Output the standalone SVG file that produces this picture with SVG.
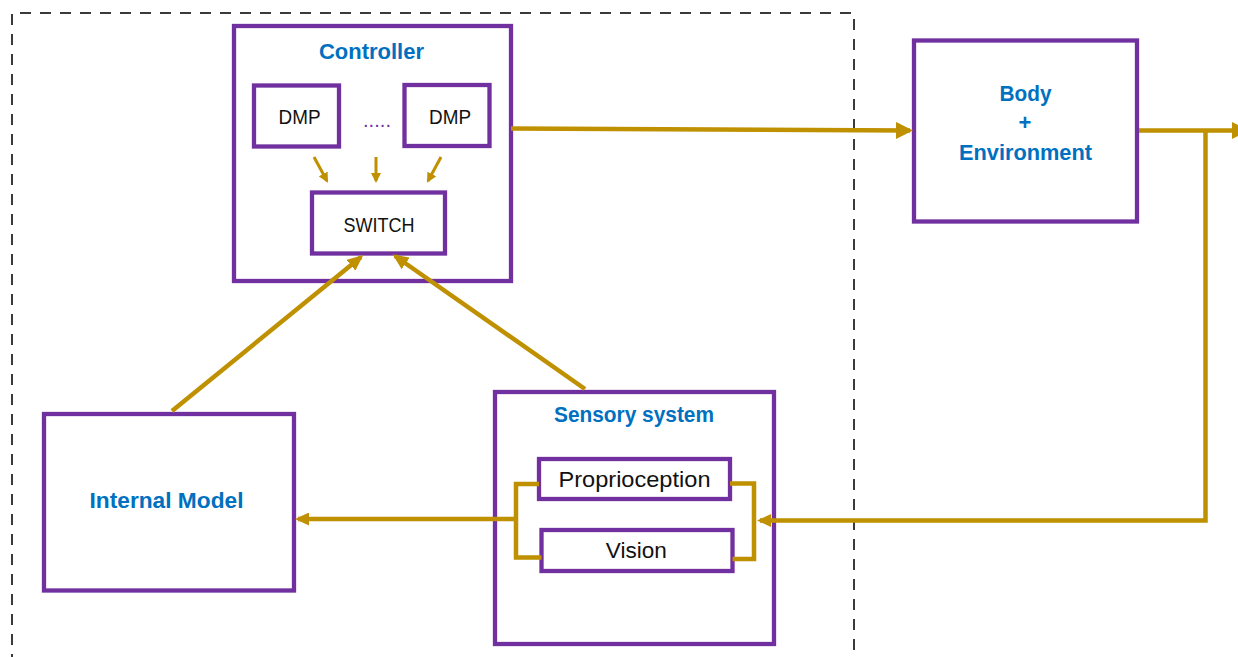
<svg xmlns="http://www.w3.org/2000/svg" width="1238" height="657" viewBox="0 0 1238 657">
  <style>
    .box { fill: #ffffff; stroke: #7030A0; stroke-width: 4.3; }
    .title { font-family: "Liberation Sans", Arial, sans-serif; font-weight: bold; font-size: 22px; fill: #0070C0; text-anchor: middle; }
    .label { font-family: "Liberation Sans", Arial, sans-serif; font-size: 20px; fill: #111111; text-anchor: middle; }
    .caps { font-size: 21px; }
    .lower { font-size: 22px; }
    .wire { fill: none; stroke: #BF9000; stroke-width: 4.5; stroke-linejoin: miter; }
    .thin { fill: none; stroke: #BF9000; stroke-width: 3; }
    .frame { fill: none; stroke: #3a3a3a; stroke-width: 2; stroke-dasharray: 11 9; }
  </style>
  <defs>
    <marker id="ahBig" markerUnits="userSpaceOnUse" markerWidth="17" markerHeight="17" refX="14" refY="8.5" orient="auto">
      <path d="M0,0 L17,8.5 L0,17 Z" fill="#BF9000"/>
    </marker>
    <marker id="ahMid" markerUnits="userSpaceOnUse" markerWidth="16" markerHeight="14" refX="13" refY="7" orient="auto">
      <path d="M0,0 L16,7 L0,14 Z" fill="#BF9000"/>
    </marker>
    <marker id="ahSmall" markerUnits="userSpaceOnUse" markerWidth="14" markerHeight="13" refX="11" refY="6.5" orient="auto">
      <path d="M0,0 L14,6.5 L0,13 Z" fill="#BF9000"/>
    </marker>
    <marker id="ahTiny" markerUnits="userSpaceOnUse" markerWidth="10" markerHeight="10" refX="8" refY="5" orient="auto">
      <path d="M0,0 L10,5 L0,10 Z" fill="#BF9000"/>
    </marker>
  </defs>

  <rect width="1238" height="657" fill="#ffffff"/>

  <g id="frame">
    <path class="frame" d="M12,665 V13 H854 V665"/>
  </g>

  <g id="controller">
    <rect class="box" x="234" y="26" width="277" height="255"/>
    <text class="title" x="371.5" y="59" textLength="105" lengthAdjust="spacingAndGlyphs">Controller</text>
  </g>
  <g id="dmp1">
    <rect class="box" x="254" y="85.5" width="85" height="61"/>
    <text class="label caps" x="299.5" y="124" textLength="42" lengthAdjust="spacingAndGlyphs">DMP</text>
  </g>
  <g id="dots">
    <text x="377" y="127" font-family="Liberation Sans, Arial, sans-serif" font-size="20" fill="#7030A0" text-anchor="middle" textLength="28" lengthAdjust="spacing">.....</text>
  </g>
  <g id="dmp2">
    <rect class="box" x="404.5" y="85" width="85" height="61"/>
    <text class="label caps" x="450" y="124" textLength="42" lengthAdjust="spacingAndGlyphs">DMP</text>
  </g>
  <g id="switch">
    <rect class="box" x="312" y="192.5" width="133" height="61"/>
    <text class="label" x="379" y="232" font-size="20.5" textLength="71" lengthAdjust="spacingAndGlyphs">SWITCH</text>
  </g>
  <g id="body-env">
    <rect class="box" x="914" y="40.5" width="223" height="181"/>
    <text class="title" x="1025.5" y="101" textLength="52" lengthAdjust="spacingAndGlyphs">Body</text>
    <text class="title" x="1025" y="130">+</text>
    <text class="title" x="1025.5" y="160" textLength="133" lengthAdjust="spacingAndGlyphs">Environment</text>
  </g>
  <g id="internal-model">
    <rect class="box" x="44" y="414" width="250" height="176.5"/>
    <text class="title" x="166.5" y="508" textLength="154" lengthAdjust="spacingAndGlyphs">Internal Model</text>
  </g>
  <g id="sensory">
    <rect class="box" x="495" y="392" width="279" height="252"/>
    <text class="title" x="634" y="422" textLength="160" lengthAdjust="spacingAndGlyphs">Sensory system</text>
  </g>
  <g id="proprioception">
    <rect class="box" x="539" y="459" width="191" height="40"/>
    <text class="label lower" x="634.5" y="487" textLength="152" lengthAdjust="spacingAndGlyphs">Proprioception</text>
  </g>
  <g id="vision">
    <rect class="box" x="541.5" y="530" width="191" height="41"/>
    <text class="label lower" x="636.3" y="558" textLength="61" lengthAdjust="spacingAndGlyphs">Vision</text>
  </g>

  <g id="connectors">
    <line class="thin" x1="314" y1="157" x2="327" y2="181" marker-end="url(#ahTiny)"/>
    <line class="thin" x1="376" y1="157" x2="376" y2="181" marker-end="url(#ahTiny)"/>
    <line class="thin" x1="441" y1="157" x2="428" y2="181" marker-end="url(#ahTiny)"/>
    <line class="wire" x1="172" y1="411" x2="361" y2="257" marker-end="url(#ahMid)"/>
    <line class="wire" x1="585" y1="389" x2="395" y2="256" marker-end="url(#ahMid)"/>
    <line class="wire" x1="511" y1="128.5" x2="910" y2="130.5" marker-end="url(#ahBig)"/>
    <line class="wire" x1="1139" y1="130.5" x2="1246" y2="130.5" marker-end="url(#ahBig)"/>
    <path class="wire" d="M1205.5,130.5 V520.5 H760" marker-end="url(#ahSmall)"/>
    <path class="wire" d="M539,484 H516 V557.5 H541.5"/>
    <path class="wire" d="M730,483.5 H754 V559 H732.5"/>
    <line class="wire" x1="516" y1="519" x2="298" y2="519" marker-end="url(#ahSmall)"/>
  </g>
</svg>
